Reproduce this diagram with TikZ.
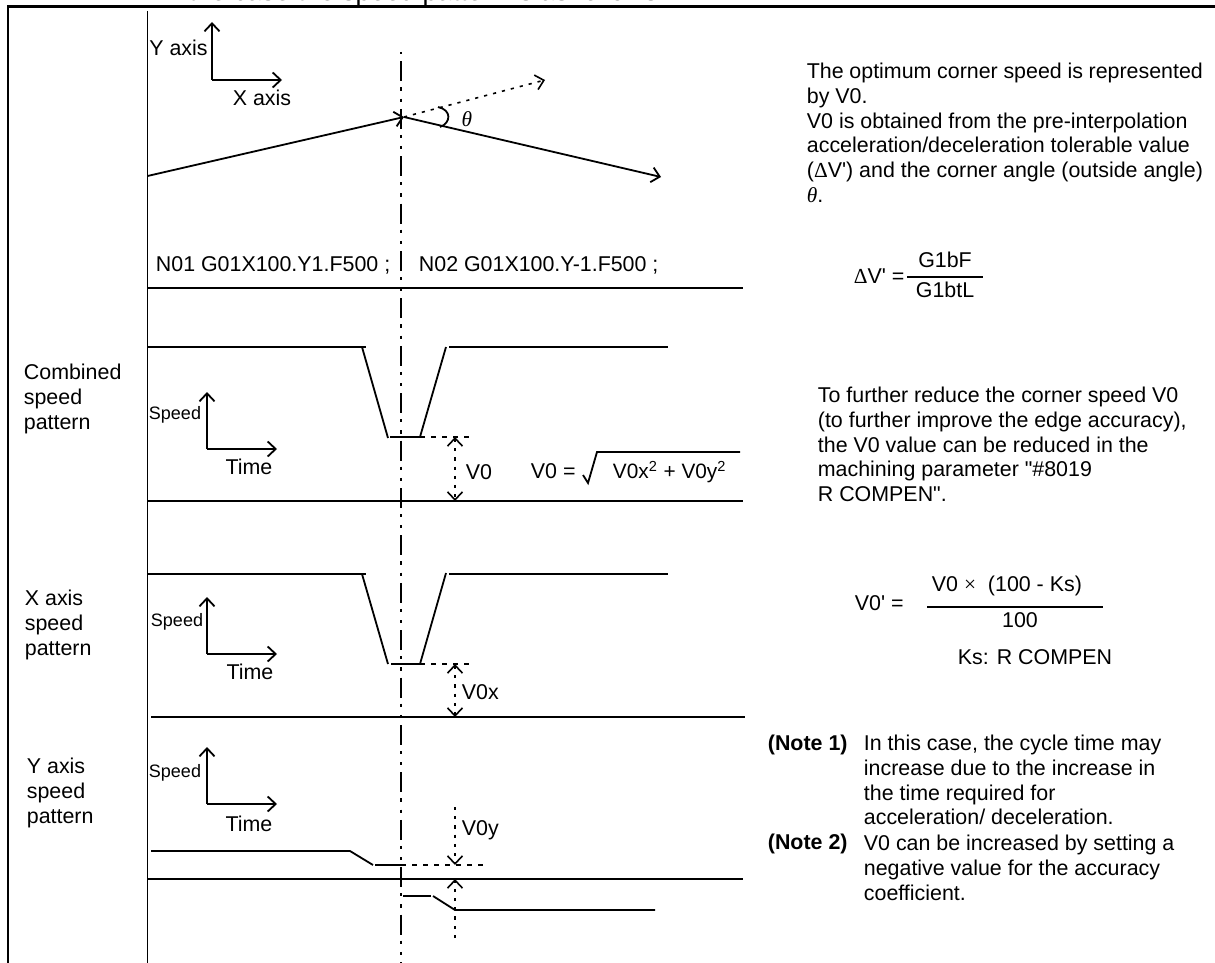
\documentclass[tikz,border=0pt]{standalone}
\usepackage{fontspec}
\defaultfontfeatures[\rmfamily,\sffamily]{}
\setmainfont{Liberation Sans}
\newfontfamily\symbfont{Liberation Serif}
\usetikzlibrary{positioning,arrows.meta}

\begin{document}
\begin{tikzpicture}[
  x=0.5pt, y=-0.5pt,
  font=\fontsize{10.7}{12.4}\selectfont,
  >={Straight Barb[length=4pt,width=7.5pt]},
  line width=0.9pt,
  label/.style={inner sep=0pt},
  para/.style={inner sep=0pt, anchor=north west, align=left},
  small/.style={inner sep=0pt, font=\fontsize{9}{11}\selectfont},
  frameline/.style={line width=1.2pt},
  dotline/.style={line width=0.8pt, dash pattern=on 1.6pt off 3pt},
  dashline/.style={line width=0.8pt, dash pattern=on 2.5pt off 3pt},
]
  \useasboundingbox (0,0) rectangle (1215,963);

  % Cut off heading
  \node[label, anchor=base west, font=\fontsize{13.4}{16}\selectfont] (heading) at (158,1)
    {In the case the speed pattern is as follows};

  % Frame
  \draw[frameline] (8,963) -- (8,6.5) -- (1215,6.5);
  \draw (147.5,11) -- (147.5,963);

  % Centre line
  \draw[line width=1.4pt, dash pattern=on 10pt off 3pt on 1.6pt off 4pt on 1.6pt off 3.5pt, dash phase=19pt]
    (401,52) -- (401,963);

  % Tool path
  \draw[->] (212,80) -- (212,22);
  \draw[->] (212,80) -- (282,80);
  \node[label, anchor=east] (yaxis) at (208.5,48) {Y axis};
  \node[label] (xaxis) at (262,98) {X axis};
  \draw[->] (147.5,176) -- (404,117);
  \draw[->] (404,117) -- (661,177);
  \draw[->, dotline] (404,117) -- (545,80);
  \draw (438,107) .. controls (452,110) and (451,123) .. (440,127);
  \node[label] (angle) at (467,119) {\symbfont\itshape θ};

  % Program blocks
  \node[label, anchor=west] (blockone) at (155,265) {N01 G01X100.Y1.F500 ;};
  \node[label, anchor=west] (blocktwo) at (418,265) {N02 G01X100.Y-1.F500 ;};
  \draw (147.5,288) -- (743,288);

  % Speed axes
  \foreach \cy/\tp/\sx/\sy/\tx/\ty in {449/392/175/415/249/467, 654/597/177/622/250/672, 804/747/175/773/249/824} {
    \draw[->] (207,\cy) -- (207,\tp);
    \draw[->] (207,\cy) -- (277,\cy);
    \node[small] at (\sx,\sy) {Speed};
    \node[label] at (\tx,\ty) {Time};
  }

  % Combined speed pattern
  \node[para, anchor=north west] (combined) at (23,363) {Combined\\speed\\pattern};
  \draw (147.5,347) -- (366,347);
  \draw (362,347) -- (388,438);
  \draw (390,437) -- (420,437) -- (446,347);
  \draw (449,347) -- (668,347);
  \draw[dashline] (420,437) -- (471,437);
  \draw[<->, dotline] (455,437) -- (455,501);
  \draw (147.5,501) -- (743,501);
  \node[label, anchor=west] (vzero) at (465,472) {V0};
  \node[label, anchor=west] (vzeroeq) at (530,471) {V0 =};
  \draw (583,475) -- (588,483) -- (597,452) -- (740,452);
  \node[label, anchor=west, font=\fontsize{10.4}{12.4}\selectfont] (vzeroroot) at (612,472) {V0x$^{\mathrm{2}}$ + V0y$^{\mathrm{2}}$};

  % X axis speed pattern
  \node[para] (xpattern) at (24,589) {X axis\\speed\\pattern};
  \draw (147.5,574) -- (366,574);
  \draw (362,574) -- (388,664);
  \draw (391,664) -- (420,664) -- (446,573);
  \draw (449,574) -- (668,574);
  \draw[dashline] (420,664) -- (474,664);
  \draw[<->, dotline] (455,664) -- (455,717);
  \draw (151,717) -- (745,717);
  \node[label, anchor=west] (vzerox) at (461,692) {V0x};

  % Y axis speed pattern
  \node[para] (ypattern) at (26,757) {Y axis\\speed\\pattern};
  \draw (151,851) -- (350,851) -- (373,865);
  \draw (375,865) -- (401,865);
  \draw[dashline] (401,865) -- (487,865);
  \draw[->, dotline] (455,807) -- (455,865);
  \draw (147.5,879) -- (743,879);
  \draw[->, dotline] (455,938) -- (455,879);
  \draw (403,896) -- (431,896);
  \draw (433,896) -- (455,910) -- (655,910);
  \node[label, anchor=west] (vzeroy) at (461,830) {V0y};

  % Text on the right
  \node[para] (optimum) at (806,62)
    {\makebox[198pt][s]{The optimum corner speed is represented}\\
     by V0.\\
     V0 is obtained from the pre-interpolation\\
     acceleration/deceleration tolerable value\\
     ({\symbfont Δ}V') and the corner angle (outside angle)\\
     {\symbfont\itshape θ}.};
  \node[label, anchor=west] (dvlhs) at (853,276) {{\symbfont Δ}V' =};
  \node[label] (dvtop) at (945,260) {G1bF};
  \draw (907,277) -- (983,277);
  \node[label] (dvbottom) at (945,290) {G1btL};

  \node[para] (reduce) at (817,386)
    {To further reduce the corner speed V0\\
     (to further improve the edge accuracy),\\
     the V0 value can be reduced in the\\
     machining parameter "\#8019\\
     R COMPEN".};
  \node[label, anchor=west] (vprime) at (854,603) {V0' =};
  \node[label, anchor=west] (vptop) at (931,586) {V0 {\symbfont ×}\ \ (100 - Ks)};
  \draw (927,607) -- (1103,607);
  \node[label] (vpbottom) at (1020,620) {100};
  \node[label, anchor=west] (kslabel) at (957,657) {Ks: R COMPEN};

  % Notes
  \node[label, anchor=west, font=\fontsize{10.7}{12.4}\selectfont\bfseries] (noteone) at (767,745) {(Note 1)};
  \node[para] (noteonetext) at (863,734)
    {In this case, the cycle time may\\
     increase due to the increase in\\
     the time required for\\
     acceleration/ deceleration.};
  \node[label, anchor=west, font=\fontsize{10.7}{12.4}\selectfont\bfseries] (notetwo) at (767,844) {(Note 2)};
  \node[para] (notetwotext) at (863,834)
    {V0 can be increased by setting a\\
     negative value for the accuracy\\
     coefficient.};
\end{tikzpicture}
\end{document}
